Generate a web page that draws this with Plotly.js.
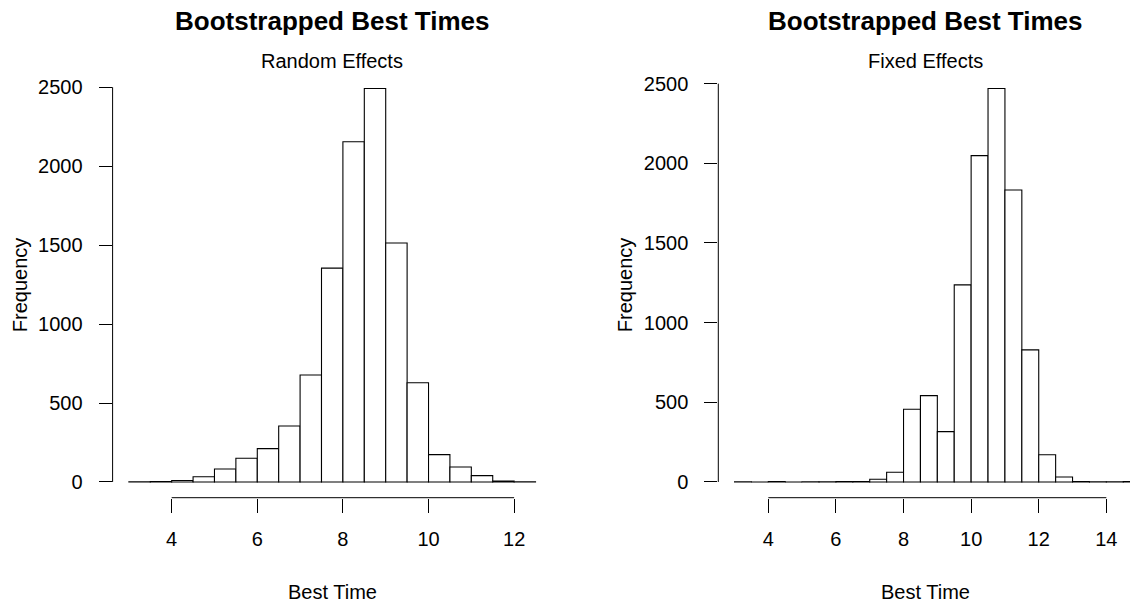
<!DOCTYPE html>
<html>
<head>
<meta charset="utf-8">
<script src="https://cdn.plot.ly/plotly-3.0.1.min.js"></script>
<style>html,body{margin:0;padding:0;background:#fff;}#chart{width:1130px;height:602px;}</style>
</head>
<body>
<div id="chart"></div>
<script>
// ---- data ----
const binWidth = 0.5;
const randomStart = 3;
const randomCounts = [1, 2, 9, 33, 82, 150, 211, 354, 677, 1354, 2154, 2492, 1513, 628, 173, 95, 40, 5, 1];
const fixedStart = 3;
const fixedCounts = [1, 0, 2, 0, 1, 1, 2, 3, 17, 61, 456, 542, 316, 1237, 2048, 2470, 1833, 829, 171, 31, 3, 1, 1, 2];
const randomXTicks = [4, 6, 8, 10, 12];
const fixedXTicks = [4, 6, 8, 10, 12, 14];
const yTicks = [0, 500, 1000, 1500, 2000, 2500];
const mainTitle = "Bootstrapped Best Times";
const subTitles = ["Random Effects", "Fixed Effects"];
const xTitle = "Best Time";
const yTitle = "Frequency";

// ---- layout geometry (pixels) ----
const W = 1130, H = 602;
const FONT = "Liberation Sans, Arial, Helvetica, sans-serif";
const BASE = 20;
const left = {x0: 112.6, x1: 551.8};
const right = {x0: 718.3, x1: 1130};
const yTop = 72.7, yBot = 497.7;
const px = v => v / W;
const py = v => 1 - v / H;

function centers(start, counts) {
  return counts.map((_, i) => start + binWidth * (i + 0.5));
}

const barStyle = {color: "#ffffff", line: {color: "#000000", width: 1.1}};
const traces = [
  {type: "bar", x: centers(randomStart, randomCounts), y: randomCounts, width: binWidth,
   marker: barStyle, xaxis: "x", yaxis: "y", hoverinfo: "x+y"},
  {type: "bar", x: centers(fixedStart, fixedCounts), y: fixedCounts, width: binWidth,
   marker: barStyle, xaxis: "x2", yaxis: "y2", hoverinfo: "x+y"}
];

const tickFont = {family: FONT, size: BASE, color: "#000"};
function xaxis(domain, range, ticks) {
  return {domain: domain, range: range, tickmode: "array", tickvals: ticks, ticktext: ticks.map(String),
    showgrid: false, zeroline: false, showline: false, ticks: "outside", ticklen: 14, tickwidth: 1,
    tickcolor: "#000", tickfont: tickFont, ticklabelstandoff: 9, fixedrange: true};
}
function yaxis(range, anchor) {
  return {domain: [py(yBot), py(yTop)], range: range, anchor: anchor, tickmode: "array", tickvals: yTicks,
    ticktext: yTicks.map(String), showgrid: false, zeroline: false, showline: false, ticks: "outside",
    ticklen: 13, tickwidth: 1, tickcolor: "#000", tickfont: tickFont, ticklabelstandoff: 12, fixedrange: true};
}

const maxL = Math.max(...randomCounts), maxR = Math.max(...fixedCounts);
const layout = {
  width: W, height: H, margin: {l: 0, r: 0, t: 0, b: 0}, showlegend: false,
  paper_bgcolor: "#fff", plot_bgcolor: "#fff", bargap: 0,
  xaxis: Object.assign(xaxis([px(left.x0), px(left.x1)], [2.62, 12.88], randomXTicks), {anchor: "y"}),
  yaxis: yaxis([-0.04 * maxL, 1.04 * maxL], "x"),
  xaxis2: Object.assign(xaxis([px(right.x0), 1], [2.52, 14.70], fixedXTicks), {anchor: "y2"}),
  yaxis2: yaxis([-0.04 * maxR, 1.04 * maxR], "x2"),
  shapes: [
    {type: "line", xref: "x", yref: "paper", x0: randomXTicks[0], x1: randomXTicks[randomXTicks.length - 1], y0: py(yBot), y1: py(yBot), line: {color: "#000", width: 1}},
    {type: "line", xref: "x2", yref: "paper", x0: fixedXTicks[0], x1: fixedXTicks[fixedXTicks.length - 1], y0: py(yBot), y1: py(yBot), line: {color: "#000", width: 1}},
    {type: "line", xref: "paper", yref: "y", x0: px(left.x0), x1: px(left.x0), y0: yTicks[0], y1: yTicks[yTicks.length - 1], line: {color: "#000", width: 1}},
    {type: "line", xref: "paper", yref: "y2", x0: px(right.x0), x1: px(right.x0), y0: yTicks[0], y1: yTicks[yTicks.length - 1], line: {color: "#000", width: 1}}
  ],
  annotations: []
};

const panels = [
  {cx: (left.x0 + left.x1) / 2, ylab: 20, sub: subTitles[0]},
  {cx: 925, ylab: 625, sub: subTitles[1]}
];
panels.forEach(p => {
  layout.annotations.push(
    {text: "<b>" + mainTitle + "</b>", xref: "paper", yref: "paper", x: px(p.cx), y: py(21), xanchor: "center", yanchor: "middle", showarrow: false, font: {family: FONT, size: 26, color: "#000"}},
    {text: p.sub, xref: "paper", yref: "paper", x: px(p.cx), y: py(61), xanchor: "center", yanchor: "middle", showarrow: false, font: {family: FONT, size: BASE, color: "#000"}},
    {text: xTitle, xref: "paper", yref: "paper", x: px(p.cx), y: py(592), xanchor: "center", yanchor: "middle", showarrow: false, font: {family: FONT, size: BASE, color: "#000"}},
    {text: yTitle, xref: "paper", yref: "paper", x: px(p.ylab), y: py((yTop + yBot) / 2), xanchor: "center", yanchor: "middle", textangle: -90, showarrow: false, font: {family: FONT, size: BASE, color: "#000"}}
  );
});

Plotly.newPlot("chart", traces, layout, {displayModeBar: false, staticPlot: true});
</script>
</body>
</html>
